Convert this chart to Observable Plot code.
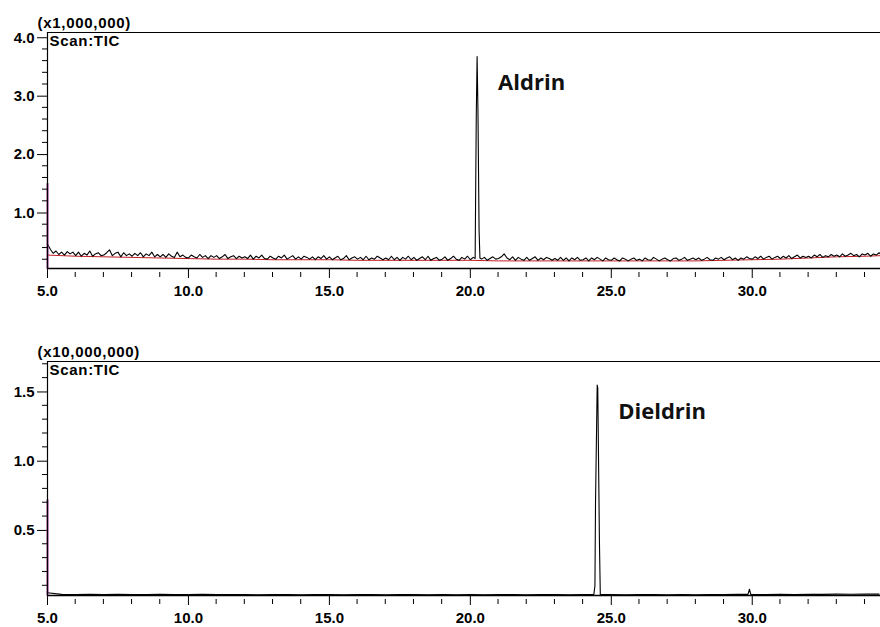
<!DOCTYPE html>
<html><head><meta charset="utf-8">
<script src="https://cdn.jsdelivr.net/npm/d3@7"></script>
<script src="https://cdn.jsdelivr.net/npm/@observablehq/plot@0.6"></script>
<style>
body{margin:0;background:#fff;}
#c svg{display:block;}
</style>
</head><body><div id="c"></div>
<script>
// ---- axes ----
const xTicks = [5, 10, 15, 20, 25, 30];
const xMinor = [6,7,8,9,11,12,13,14,16,17,18,19,21,22,23,24,26,27,28,29,31,32,33,34];
const topYTicks = [1.0, 2.0, 3.0, 4.0];
const topYMinor = [0.2,0.4,0.6,0.8,1.2,1.4,1.6,1.8,2.2,2.4,2.6,2.8,3.2,3.4,3.6,3.8];
const botYTicks = [0.5, 1.0, 1.5];
const botYMinor = [0.1,0.2,0.3,0.4,0.6,0.7,0.8,0.9,1.1,1.2,1.3,1.4,1.6,1.7];
const xDomain = [5, 34.55];
const topYDomain = [0.05, 4.09];
const botYDomain = [0.03, 1.72];
const topMultiplier = "(x1,000,000)";
const botMultiplier = "(x10,000,000)";
const scanLabel = "Scan:TIC";

// ---- top chromatogram (x1,000,000), TIC sampled every 0.1 min from 5.0 ----
const topStart = 5.0, topStep = 0.1;
const topNoise = [
 0.47,0.38,0.31,0.35,0.29,0.33,0.28,0.34,0.30,0.33,
 0.27,0.33,0.26,0.31,0.28,0.35,0.26,0.30,0.32,0.27,
 0.28,0.32,0.37,0.27,0.31,0.33,0.25,0.32,0.27,0.30,
 0.26,0.31,0.27,0.32,0.25,0.30,0.27,0.33,0.25,0.29,
 0.25,0.29,0.24,0.30,0.26,0.24,0.33,0.25,0.28,0.24,
 0.23,0.28,0.25,0.23,0.29,0.24,0.27,0.22,0.27,0.24,
 0.27,0.22,0.25,0.29,0.22,0.25,0.27,0.22,0.26,0.23,
 0.25,0.22,0.28,0.21,0.26,0.23,0.28,0.22,0.21,0.26,
 0.23,0.21,0.26,0.23,0.28,0.21,0.24,0.27,0.21,0.25,
 0.21,0.26,0.24,0.21,0.25,0.20,0.25,0.22,0.27,0.21,
 0.25,0.20,0.23,0.26,0.20,0.22,0.27,0.20,0.23,0.25,
 0.21,0.24,0.20,0.26,0.20,0.23,0.21,0.26,0.23,0.20,
 0.23,0.20,0.26,0.20,0.24,0.19,0.24,0.21,0.26,0.20,
 0.24,0.19,0.22,0.25,0.20,0.26,0.19,0.22,0.24,0.19,
 0.21,0.25,0.19,0.22,0.26,0.21,0.19,0.24,0.21,0.26,
 0.20,0.24,0.19,0.25,0.21,0.24,0.19,0.22,0.25,0.21,
 0.22,0.25,0.30,0.23,0.20,0.25,0.19,0.24,0.21,0.19,
 0.24,0.19,0.22,0.25,0.19,0.23,0.20,0.24,0.22,0.19,
 0.22,0.19,0.24,0.19,0.23,0.18,0.23,0.20,0.24,0.19,
 0.20,0.23,0.18,0.23,0.20,0.24,0.21,0.18,0.23,0.20,
 0.19,0.23,0.20,0.18,0.23,0.21,0.18,0.21,0.23,0.19,
 0.21,0.18,0.23,0.20,0.19,0.24,0.21,0.18,0.21,0.23,
 0.20,0.18,0.22,0.23,0.19,0.21,0.24,0.19,0.21,0.23,
 0.20,0.23,0.19,0.21,0.24,0.20,0.19,0.23,0.21,0.24,
 0.20,0.23,0.25,0.20,0.23,0.19,0.23,0.21,0.25,0.22,
 0.21,0.25,0.22,0.26,0.21,0.24,0.26,0.21,0.24,0.26,
 0.22,0.26,0.23,0.27,0.22,0.25,0.28,0.23,0.26,0.24,
 0.26,0.23,0.28,0.25,0.29,0.24,0.27,0.25,0.29,0.26,
 0.28,0.25,0.30,0.26,0.28,0.31,0.27,0.29,0.25,0.30,
 0.28,0.31,0.26,0.30,0.28,0.32,0.28
];
const topPeakTime  = [20.17, 20.21, 20.24, 20.27, 20.31, 20.34];
const topPeakValue = [0.22,  2.64,  3.68,  2.75,  0.70,  0.23];
const topBaseTime  = [5.0,6,7,8,9,10,11,12,13,14,15,16,17,18,19,20,21,22,23,24,25,26,27,28,29,30,31,32,33,34,34.55];
const topBaseValue = [0.28,0.26,0.25,0.24,0.23,0.22,0.21,0.21,0.20,0.20,0.20,0.19,0.19,0.19,0.19,0.19,0.18,0.18,0.18,0.18,0.18,0.18,0.18,0.18,0.19,0.20,0.21,0.23,0.25,0.26,0.27];
const topMarkerTime  = [5.0, 5.0];
const topMarkerValue = [0.05, 1.50];
const topPeakName = "Aldrin";

// ---- bottom chromatogram (x10,000,000), sampled every 0.5 min from 5.0 ----
const botStart = 5.0, botStep = 0.5;
const botNoise = [
 0.050,0.038,0.037,0.039,0.036,0.038,0.037,0.036,0.038,0.037,
 0.036,0.038,0.037,0.036,0.037,0.035,0.037,0.036,0.035,0.037,
 0.036,0.035,0.037,0.036,0.035,0.036,0.037,0.035,0.036,0.035,
 0.036,0.035,0.037,0.036,0.035,0.036,0.037,0.035,0.036,0.035,
 0.036,0.035,0.036,0.037,0.035,0.036,0.035,0.037,0.036,0.038,
 0.037,0.036,0.038,0.037,0.039,0.038,0.040,0.039,0.041,0.040
];
const botPeakTime  = [24.38, 24.42, 24.44, 24.50, 24.52, 24.58, 24.61, 29.85, 29.90, 29.95];
const botPeakValue = [0.036, 0.10,  0.69,  1.55,  1.53,  0.41,  0.036, 0.038, 0.075, 0.038];
const botMarkerTime  = [5.0, 5.0];
const botMarkerValue = [0.03, 0.72];
const botPeakName = "Dieldrin";
</script>
<script>
const FONT = "'Liberation Sans', Arial, sans-serif";
const W = 880, ML = 47;

function series(start, step, noise, pTime, pValue) {
  const pts = noise.map((v, i) => ({t: Math.round((start + i * step) * 1000) / 1000, v}));
  const peakPts = pTime.map((t, i) => ({t, v: pValue[i]}));
  const windows = [];
  let s = 0;
  for (let i = 1; i <= pTime.length; i++) {
    if (i === pTime.length || pTime[i] - pTime[i - 1] > 1) { windows.push([pTime[s], pTime[i - 1]]); s = i; }
  }
  const kept = pts.filter(p => !windows.some(([a, b]) => p.t >= a - 0.02 && p.t <= b + 0.02));
  return kept.concat(peakPts).sort((a, b) => a.t - b.t);
}

function panel(cfg) {
  const data = series(cfg.start, cfg.step, cfg.noise, cfg.pTime, cfg.pValue);
  const marker = cfg.mTime.map((t, i) => ({t, v: cfg.mValue[i]}));
  const base = cfg.bTime ? cfg.bTime.map((t, i) => ({t, v: cfg.bValue[i]})) : [];
  const iMax = d3.maxIndex(cfg.pValue);
  const peak = [{t: cfg.pTime[iMax], v: cfg.pValue[iMax], name: cfg.name}];
  const chart = Plot.plot({
    width: W, height: cfg.height,
    marginLeft: ML, marginRight: 0, marginTop: 32, marginBottom: cfg.marginBottom,
    style: {fontFamily: FONT, fontSize: "15px", fontWeight: "bold", color: "#000", background: "#fff", overflow: "visible"},
    x: {domain: xDomain, ticks: xTicks, tickSize: 10, tickPadding: 7, tickFormat: d => d.toFixed(1), label: null},
    y: {domain: cfg.yDomain, ticks: cfg.yTicks, tickSize: 10, tickPadding: 3, tickFormat: d => d.toFixed(1), label: null},
    marks: [
      Plot.line(base, {x: "t", y: "v", stroke: "#c41e24", strokeWidth: 1}),
      Plot.line(data, {x: "t", y: "v", stroke: "#000", strokeWidth: 1.1}),
      Plot.line(marker, {x: "t", y: "v", stroke: "#a2309c", strokeWidth: 2}),
      Plot.ruleY([cfg.yDomain[1]], {stroke: "#000", strokeWidth: 1.2}),
      Plot.ruleY([cfg.yDomain[0]], {stroke: "#000", strokeWidth: 1.6}),
      Plot.ruleX([xDomain[0]], {stroke: "#000", strokeWidth: 1.2}),
      Plot.text(peak, {x: "t", y: "v", text: "name", dx: 21, dy: 27, textAnchor: "start", lineAnchor: "middle",
        fontFamily: "'Open Sans', sans-serif", fontSize: 22, fontWeight: "bold", fill: "#111"}),
      Plot.text([cfg.multiplier], {frameAnchor: "top-left", dx: -10, dy: -9, textAnchor: "start", lineAnchor: "middle", fontSize: 15, fontWeight: "bold"}),
      Plot.text([scanLabel], {frameAnchor: "top-left", dx: 2, dy: 9, textAnchor: "start", lineAnchor: "middle", fontSize: 15, fontWeight: "bold"})
    ]
  });
  const svg = d3.select(chart);
  const sx = chart.scale("x"), sy = chart.scale("y");
  const yAxis = sy.apply(cfg.yDomain[0]);
  const xAxis = sx.apply(xDomain[0]);
  const g = svg.append("g").attr("stroke", "#000").attr("stroke-width", 1);
  g.selectAll("line.mx").data(xMinor).join("line")
    .attr("x1", d => sx.apply(d)).attr("x2", d => sx.apply(d))
    .attr("y1", yAxis + 4).attr("y2", yAxis + 9);
  g.selectAll("line.my").data(cfg.yMinor).join("line")
    .attr("x1", xAxis - 5).attr("x2", xAxis)
    .attr("y1", d => sy.apply(d)).attr("y2", d => sy.apply(d));
  svg.selectAll("text").filter(function() { return this.textContent === cfg.multiplier || this.textContent === scanLabel; })
    .style("letter-spacing", "0.7px");
  return chart;
}

const host = document.getElementById("c");
host.appendChild(panel({
  height: 329, marginBottom: 61, yDomain: topYDomain, yTicks: topYTicks, yMinor: topYMinor,
  start: topStart, step: topStep, noise: topNoise, pTime: topPeakTime, pValue: topPeakValue,
  bTime: topBaseTime, bValue: topBaseValue, mTime: topMarkerTime, mValue: topMarkerValue,
  name: topPeakName, multiplier: topMultiplier
}));
host.appendChild(panel({
  height: 298, marginBottom: 32, yDomain: botYDomain, yTicks: botYTicks, yMinor: botYMinor,
  start: botStart, step: botStep, noise: botNoise, pTime: botPeakTime, pValue: botPeakValue,
  mTime: botMarkerTime, mValue: botMarkerValue,
  name: botPeakName, multiplier: botMultiplier
}));
</script>
</body></html>
